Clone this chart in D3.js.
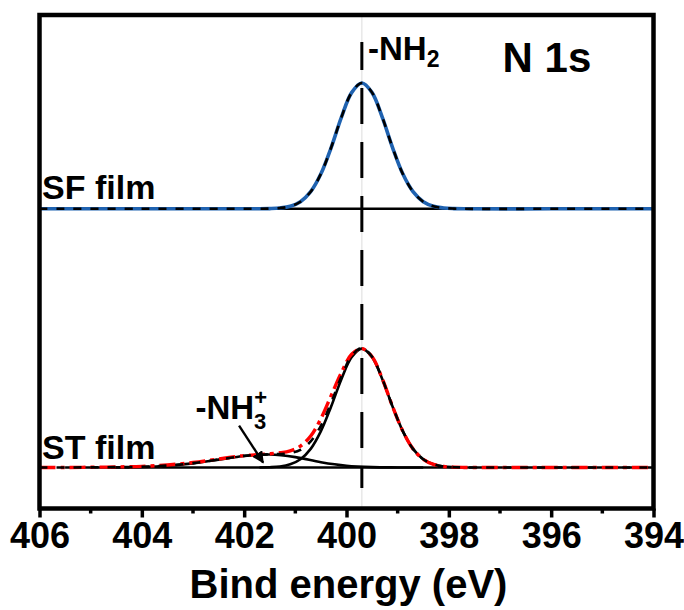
<!DOCTYPE html>
<html>
<head>
<meta charset="utf-8">
<script src="https://cdn.jsdelivr.net/npm/d3@7"></script>
<style>
  body { margin: 0; background: #fff; }
  text { font-family: "Liberation Sans", Arial, sans-serif; font-weight: bold; fill: #000; }
</style>
</head>
<body>
<div id="chart"></div>
<script>
// data (binding energy in eV, intensity in a.u.)
let sfEnergy = [406, 404, 402, 401.7, 401.5, 401.3, 401.1, 400.9, 400.7, 400.5, 400.3, 400.1, 399.9, 399.7,
    399.5, 399.3, 399.1, 398.9, 398.7, 398.5, 398.3, 398.1, 397.9, 397.7, 396, 394];
let sfSignal = [0, 0, 0, 0, 0.002, 0.008, 0.025, 0.071, 0.171, 0.35, 0.613, 0.915, 1.163, 1.26,
    1.163, 0.915, 0.613, 0.35, 0.171, 0.071, 0.025, 0.008, 0.002, 0, 0, 0];

let stEnergy = [406, 405.5, 405, 404.5, 404, 403.5, 403, 402.5, 402, 401.7, 401.5, 401.3, 401.1, 400.9, 400.7,
    400.5, 400.3, 400.1, 399.9, 399.7, 399.5, 399.3, 399.1, 398.9, 398.7, 398.5, 398.3, 398.1, 397.9, 397.7, 397, 396, 394];
let stSignal = [0, 0, 0.003, 0.006, 0.012, 0.026, 0.05, 0.085, 0.12, 0.13, 0.138, 0.148, 0.168, 0.215, 0.315,
    0.49, 0.72, 0.95, 1.135, 1.19, 1.109, 0.887, 0.612, 0.365, 0.187, 0.083, 0.032, 0.01, 0.003, 0.001, 0, 0, 0];
let stEnvelope = [0, 0, 0.002, 0.004, 0.008, 0.02, 0.044, 0.08, 0.117, 0.128, 0.133, 0.135, 0.145, 0.177, 0.261,
    0.418, 0.647, 0.908, 1.118, 1.197, 1.109, 0.887, 0.612, 0.365, 0.187, 0.083, 0.032, 0.01, 0.003, 0.001, 0, 0, 0];

let nh2Energy = [401.7, 401.5, 401.3, 401.1, 400.9, 400.7, 400.5, 400.3, 400.1, 399.9, 399.7,
    399.5, 399.3, 399.1, 398.9, 398.7, 398.5, 398.3, 398.1, 397.9, 397.7];
let nh2Peak = [0.001, 0.003, 0.01, 0.032, 0.083, 0.187, 0.365, 0.611, 0.885, 1.105, 1.19,
    1.105, 0.885, 0.611, 0.365, 0.187, 0.083, 0.032, 0.01, 0.003, 0.001];

let nh3Energy = [405.5, 405, 404.5, 404, 403.5, 403, 402.5, 402, 401.5, 401, 400.5, 400, 399.5, 399, 398.5];
let nh3Peak = [0, 0, 0.0014, 0.006, 0.018, 0.042, 0.079, 0.115, 0.13, 0.104, 0.053, 0.018, 0.004, 0.001, 0];

let sfOffset = 2.59;
let sfBaseline = [402.6, 394];
let stBaseline = [404.6, 394];
let peakLine = 399.7;

let xTicks = [406, 404, 402, 400, 398, 396, 394];
let xMinorTicks = [405, 403, 401, 399, 397, 395];

// chart set up
let svgWidth = 684;
let svgHeight = 610;
let margin = { top: 15, right: 30.5, bottom: 101.5, left: 39.5 };
let width = svgWidth - margin.left - margin.right;
let height = svgHeight - margin.top - margin.bottom;

let svg = d3.select('#chart').append('svg')
    .attr('width', svgWidth)
    .attr('height', svgHeight);

let chartGroup = svg.append('g')
    .attr('transform', `translate(${margin.left}, ${margin.top})`);

let xScale = d3.scaleLinear().domain([406, 394]).range([0, width]);
let yScale = d3.scaleLinear().domain([-0.41, 4.53]).range([height, 0]);

let line = d3.line()
    .x(d => xScale(d[0]))
    .y(d => yScale(d[1]))
    .curve(d3.curveCatmullRom);

function pairs(xs, ys, offset) {
    return xs.map((x, i) => [x, ys[i] + offset]);
}

// thin grey guide and dashed -NH2 position
chartGroup.append('line')
    .attr('x1', xScale(peakLine)).attr('x2', xScale(peakLine))
    .attr('y1', 0).attr('y2', height)
    .attr('stroke', '#e2e2e2').attr('stroke-width', 1.2);

// baselines
chartGroup.append('path')
    .attr('d', line([[sfBaseline[0], sfOffset], [sfBaseline[1], sfOffset]]))
    .attr('stroke', '#000').attr('stroke-width', 2.6).attr('fill', 'none');
chartGroup.append('path')
    .attr('d', line([[stBaseline[0], 0], [stBaseline[1], 0]]))
    .attr('stroke', '#000').attr('stroke-width', 2.6).attr('fill', 'none');

// SF film
chartGroup.append('path')
    .attr('d', line(pairs(sfEnergy, sfSignal, sfOffset)))
    .attr('stroke', '#1f62b0').attr('stroke-width', 3.6).attr('fill', 'none');
chartGroup.append('path')
    .attr('d', line(pairs(sfEnergy, sfSignal, sfOffset)))
    .attr('stroke', '#000').attr('stroke-width', 2.6).attr('fill', 'none')
    .attr('stroke-dasharray', '8,9');

// ST film components
chartGroup.append('path')
    .attr('d', line(pairs(nh3Energy, nh3Peak, 0)))
    .attr('stroke', '#000').attr('stroke-width', 2.6).attr('fill', 'none');
chartGroup.append('path')
    .attr('d', line(pairs(nh2Energy, nh2Peak, 0)))
    .attr('stroke', '#000').attr('stroke-width', 2.6).attr('fill', 'none');
chartGroup.append('path')
    .attr('d', line(pairs(stEnergy, stSignal, 0)))
    .attr('stroke', '#f00').attr('stroke-width', 3.4).attr('fill', 'none')
    .attr('stroke-dasharray', '16,5,4,5');
chartGroup.append('path')
    .attr('d', line(pairs(stEnergy, stEnvelope, 0)))
    .attr('stroke', '#000').attr('stroke-width', 2.6).attr('fill', 'none')
    .attr('stroke-dasharray', '8,9');

chartGroup.append('line')
    .attr('x1', xScale(peakLine)).attr('x2', xScale(peakLine))
    .attr('y1', 27).attr('y2', 473)
    .attr('stroke', '#000').attr('stroke-width', 3)
    .attr('stroke-dasharray', '36,18')
    .attr('stroke-dashoffset', 8);

// frame
chartGroup.append('rect')
    .attr('x', 0).attr('y', 0)
    .attr('width', width).attr('height', height)
    .attr('fill', 'none').attr('stroke', '#000').attr('stroke-width', 4.5);

// x axis
let xAxis = chartGroup.append('g')
    .attr('transform', `translate(0, ${height})`)
    .call(d3.axisBottom(xScale).tickValues(xTicks).tickSize(9).tickSizeOuter(0).tickPadding(5).tickFormat(d3.format('d')));
xAxis.select('.domain').remove();
xAxis.selectAll('line').attr('stroke', '#000').attr('stroke-width', 3.5);
xAxis.selectAll('text').attr('font-size', 36).attr('dy', '0.71em')
    .style('font-family', '"Liberation Sans", Arial, sans-serif').style('font-weight', 'bold');

chartGroup.append('g')
    .attr('transform', `translate(0, ${height})`)
    .selectAll('line').data(xMinorTicks).join('line')
    .attr('x1', d => xScale(d)).attr('x2', d => xScale(d))
    .attr('y1', 0).attr('y2', 5)
    .attr('stroke', '#000').attr('stroke-width', 3.5);

svg.append('text')
    .attr('x', margin.left + width / 2 + 2).attr('y', 598)
    .attr('text-anchor', 'middle').attr('font-size', 40)
    .text('Bind energy (eV)');

// labels
function label(x, y, size, parts) {
    let t = chartGroup.append('text').attr('x', x).attr('y', y).attr('font-size', size);
    parts.forEach(p => {
        t.append('tspan').attr('font-size', p.size || size)
            .attr('dy', p.dy || 0).attr('dx', p.dx || 0).text(p.t);
    });
    return t;
}

label(xScale(405.95), yScale(2.69), 34, [{ t: 'SF film' }]);
label(xScale(405.95), yScale(0.09), 34, [{ t: 'ST film' }]);
label(xScale(396.95), yScale(3.96), 42, [{ t: 'N 1s' }]);
label(xScale(399.58), yScale(4.08), 33, [{ t: '-NH' }, { t: '2', size: 23, dy: 7 }]);
label(xScale(402.95), yScale(0.49), 33, [{ t: '-NH' }, { t: '+', size: 22, dy: -14 }, { t: '3', size: 22, dy: 24, dx: -13 }]);

// arrow to the -NH3+ component
svg.append('defs').append('marker')
    .attr('id', 'head')
    .attr('viewBox', '0 0 10 10')
    .attr('refX', 9).attr('refY', 5)
    .attr('markerWidth', 5).attr('markerHeight', 5)
    .attr('orient', 'auto')
    .append('path').attr('d', 'M0,0 L10,5 L0,10 z').attr('fill', '#000');

chartGroup.append('line')
    .attr('x1', xScale(402.1)).attr('y1', yScale(0.42))
    .attr('x2', xScale(401.63)).attr('y2', yScale(0.05))
    .attr('stroke', '#000').attr('stroke-width', 2.4)
    .attr('marker-end', 'url(#head)');
</script>
</body>
</html>
